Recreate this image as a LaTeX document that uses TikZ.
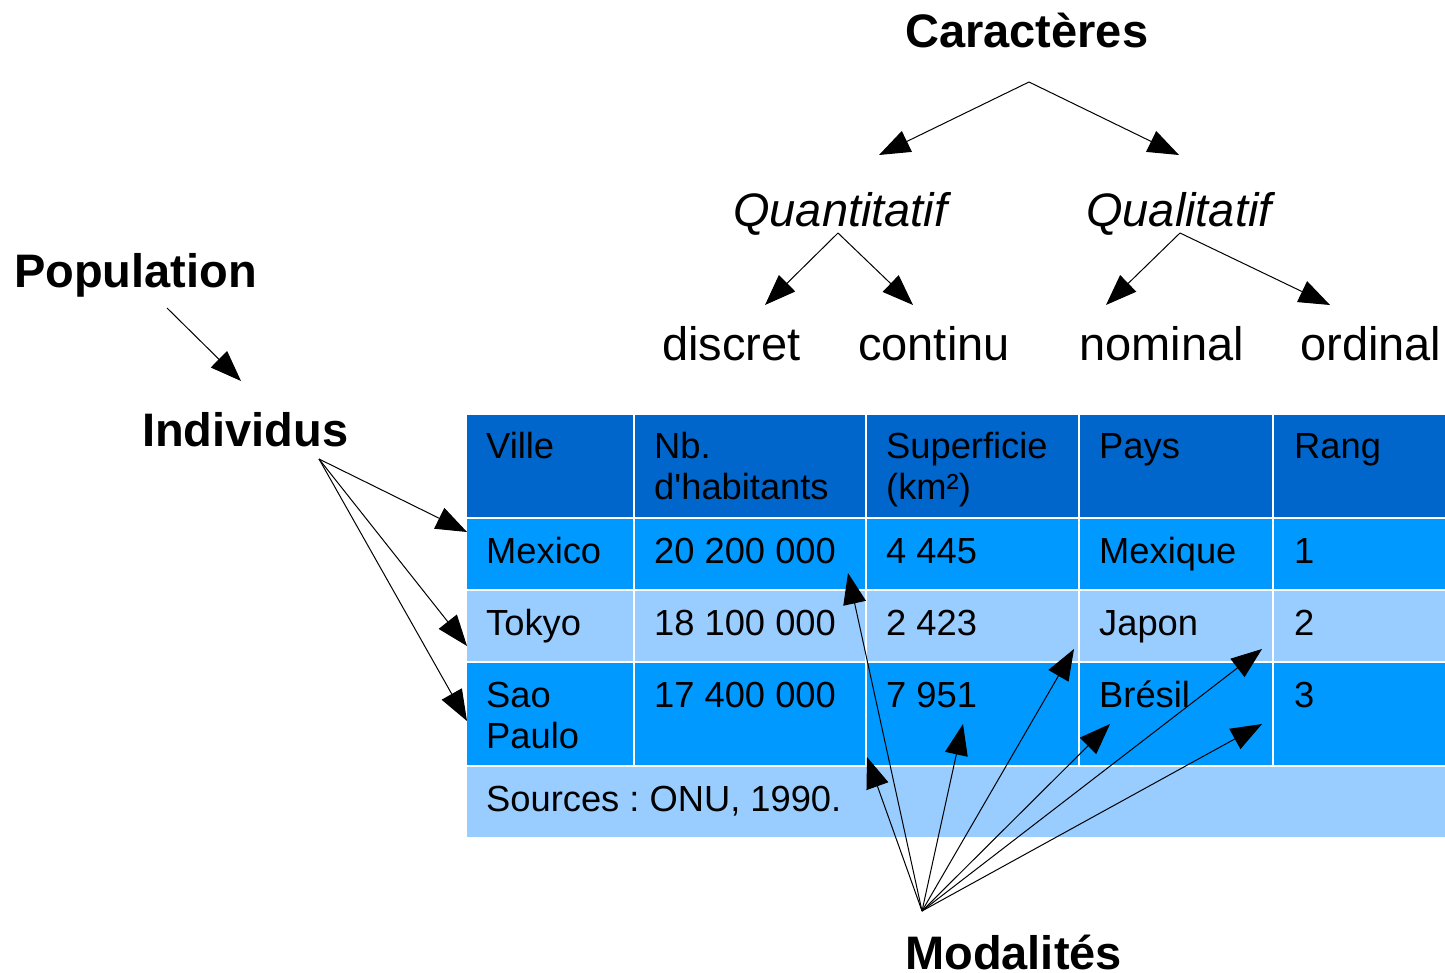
\documentclass[tikz,border=0pt]{standalone}
\usepackage{fontspec}
\setmainfont{Liberation Sans}
\usetikzlibrary{arrows.meta}
\frenchspacing
\definecolor{hdr}{HTML}{0066CC}
\definecolor{rowA}{HTML}{0099FF}
\definecolor{rowB}{HTML}{99CCFF}
\newcommand{\twol}[2]{\begin{tabular}[t]{@{}l@{}}#1\\#2\end{tabular}}
\tikzset{
  big/.style={font=\fontsize{47}{56}\selectfont, inner sep=0pt, anchor=base west},
  bigb/.style={big, font=\fontsize{47}{56}\selectfont\bfseries},
  bigi/.style={big, font=\fontsize{47}{56}\selectfont\itshape},
  cell/.style={font=\fontsize{36.3}{41}\selectfont, inner sep=0pt, anchor=base west},
  arr/.style={-{Triangle[length=31pt,width=23pt]}, line width=1pt, black},
}
\begin{document}
\begin{tikzpicture}[x=1pt,y=-1pt]
\useasboundingbox (0,0) rectangle (1445,973);
% table background
\fill[hdr] (467,415) rectangle (1445,518);
\fill[rowA] (467,518) rectangle (1445,590);
\fill[rowB] (467,590) rectangle (1445,662);
\fill[rowA] (467,662) rectangle (1445,766);
\fill[rowB] (467,766) rectangle (1445,837);
\foreach \y in {518,590,662,766} \draw[white, line width=1.5pt] (467,\y) -- (1445,\y);
\foreach \x in {634,866,1079,1273} \draw[white, line width=1.5pt] (\x,415) -- (\x,766);
% table text
\node[cell] (h1) at (486,458) {Ville};
\node[cell] (h2) at (654,458) {\twol{Nb.}{d\textquotesingle habitants}};
\node[cell] (h3) at (886,458) {\twol{Superficie}{(km²)}};
\node[cell] (h4) at (1099,458) {Pays};
\node[cell] (h5) at (1294,458) {Rang};
\node[cell] (a1) at (486,563) {Mexico};
\node[cell] (a2) at (654,563) {20 200 000};
\node[cell] (a3) at (886,563) {4 445};
\node[cell] (a4) at (1099,563) {Mexique};
\node[cell] (a5) at (1294,563) {1};
\node[cell] (b1) at (486,635) {Tokyo};
\node[cell] (b2) at (654,635) {18 100 000};
\node[cell] (b3) at (886,635) {2 423};
\node[cell] (b4) at (1099,635) {Japon};
\node[cell] (b5) at (1294,635) {2};
\node[cell] (c1) at (486,707) {\twol{Sao}{Paulo}};
\node[cell] (c2) at (654,707) {17 400 000};
\node[cell] (c3) at (886,707) {7 951};
\node[cell] (c4) at (1099,707) {Brésil};
\node[cell] (c5) at (1294,707) {3};
\node[cell] (src) at (486,811) {Sources : ONU, 1990.};
% labels
\node[bigb] (car) at (905,48) {Caractères};
\node[bigi] (quan) at (733,227) {Quantitatif};
\node[bigi] (qual) at (1086,227) {Qualitatif};
\node[big] (disc) at (662,360) {discret};
\node[big] (cont) at (858,360) {continu};
\node[big] (nom) at (1079,360) {nominal};
\node[big] (ord) at (1300,360) {ordinal};
\node[bigb] (pop) at (14,288) {Population};
\node[bigb] (ind) at (142,446) {Individus};
\node[bigb] (mod) at (905,969) {Modalités};
% connector coordinates
\coordinate (carS) at (1029,82);
\coordinate (quanT) at (879,155);
\coordinate (qualT) at (1179,155);
\coordinate (quanS) at (838,233);
\coordinate (discT) at (765,305);
\coordinate (contT) at (913,305);
\coordinate (qualS) at (1180,233);
\coordinate (nomT) at (1106,305);
\coordinate (ordT) at (1330,305);
\coordinate (popS) at (167,308);
\coordinate (indT) at (241,381);
\coordinate (indS) at (319,459);
\coordinate (r1) at (467,532);
\coordinate (r2) at (467,646);
\coordinate (r3) at (467,721);
\coordinate (modS) at (922,911);
\coordinate (m1) at (848,573);
\coordinate (m2) at (867,757);
\coordinate (m3) at (963,724);
\coordinate (m4) at (1074,649);
\coordinate (m5) at (1110,724);
\coordinate (m6) at (1262,649);
\coordinate (m7) at (1262,724);
% connectors
\draw[arr] (carS) -- (quanT);
\draw[arr] (carS) -- (qualT);
\draw[arr] (quanS) -- (discT);
\draw[arr] (quanS) -- (contT);
\draw[arr] (qualS) -- (nomT);
\draw[arr] (qualS) -- (ordT);
\draw[arr] (popS) -- (indT);
\foreach \t in {r1,r2,r3} \draw[arr] (indS) -- (\t);
\foreach \t in {m1,m2,m3,m4,m5,m6,m7} \draw[arr] (modS) -- (\t);
\end{tikzpicture}
\end{document}
